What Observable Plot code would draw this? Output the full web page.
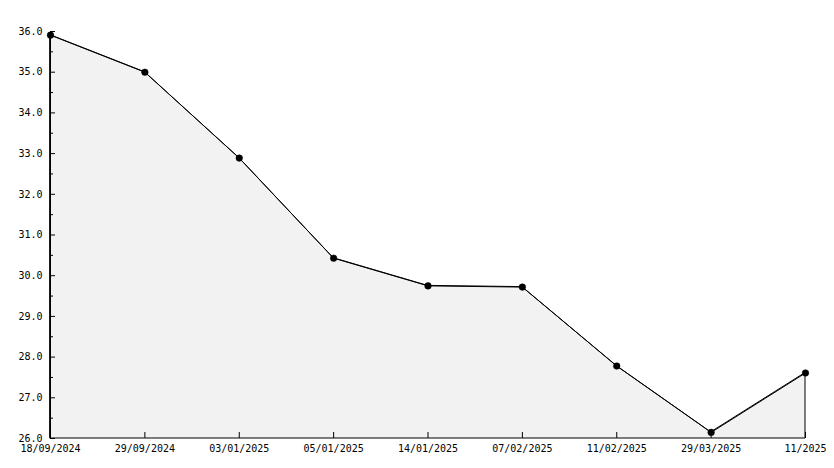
<!DOCTYPE html>
<html>
<head>
<meta charset="utf-8">
<script src="https://cdn.jsdelivr.net/npm/d3@7"></script>
<script src="https://cdn.jsdelivr.net/npm/@observablehq/plot@0.6"></script>
<style>
  html, body { margin: 0; padding: 0; background: #fff; }
  #chart svg { display: block; }
</style>
</head>
<body>
<div id="chart"></div>
<script>
const dates = ["18/09/2024", "29/09/2024", "03/01/2025", "05/01/2025", "14/01/2025", "07/02/2025", "11/02/2025", "29/03/2025", "11/2025"];
const values = [35.91, 35.0, 32.89, 30.43, 29.75, 29.72, 27.78, 26.15, 27.61];
const yMajorTicks = [26, 27, 28, 29, 30, 31, 32, 33, 34, 35, 36];
const yMinorTicks = [26.5, 27.5, 28.5, 29.5, 30.5, 31.5, 32.5, 33.5, 34.5, 35.5];
const gridLines = [27, 28, 29, 30, 31, 32, 33, 34, 35, 36];

const data = dates.map((d, i) => ({date: d, value: values[i]}));
const font = "DejaVu Sans Mono, monospace";

const chart = Plot.plot({
  width: 834,
  height: 468,
  marginLeft: 50,
  marginRight: 29,
  marginTop: 31,
  marginBottom: 30,
  style: {fontFamily: font, fontSize: "10px", background: "#fff", color: "#000"},
  x: {type: "point", domain: dates, padding: 0, round: false, axis: null},
  y: {domain: [26, 36], axis: null},
  marks: [
    Plot.areaY(data, {x: "date", y1: 26, y2: "value", fill: "#f2f2f2", stroke: "#000", strokeWidth: 1}),
    Plot.ruleY(gridLines, {x1: dates[0], x2: dates[dates.length - 1], stroke: "#dcdcdc", strokeWidth: 1}),
    Plot.line(data, {x: "date", y: "value", stroke: "#000", strokeWidth: 1}),
    Plot.ruleY([26], {x1: dates[0], x2: dates[dates.length - 1], stroke: "#000", strokeWidth: 1}),
    Plot.ruleX([dates[0]], {y1: 26, y2: 36, stroke: "#000", strokeWidth: 1}),
    // y ticks (inward)
    Plot.axisY(yMajorTicks, {anchor: "left", tickSize: -5, fill: "none", stroke: "#000", label: null}),
    Plot.axisY(yMinorTicks, {anchor: "left", tickSize: -3, fill: "none", stroke: "#000", label: null}),
    Plot.axisY(yMajorTicks, {anchor: "left", tickSize: 0, tickPadding: 8, tickFormat: d => d.toFixed(1), fill: "#000", fontSize: 10, fontFamily: font, label: null}),
    // x ticks (upward)
    Plot.axisX(dates, {anchor: "bottom", tickSize: -6, fill: "none", stroke: "#000", label: null}),
    Plot.axisX(dates, {anchor: "bottom", tickSize: 0, tickPadding: 6, fill: "#000", fontSize: 10, fontFamily: font, label: null}),
    Plot.dot(data, {x: "date", y: "value", r: 3.3, fill: "#000", stroke: "#000", strokeWidth: 0.5})
  ]
});
document.getElementById("chart").appendChild(chart);
</script>
</body>
</html>
